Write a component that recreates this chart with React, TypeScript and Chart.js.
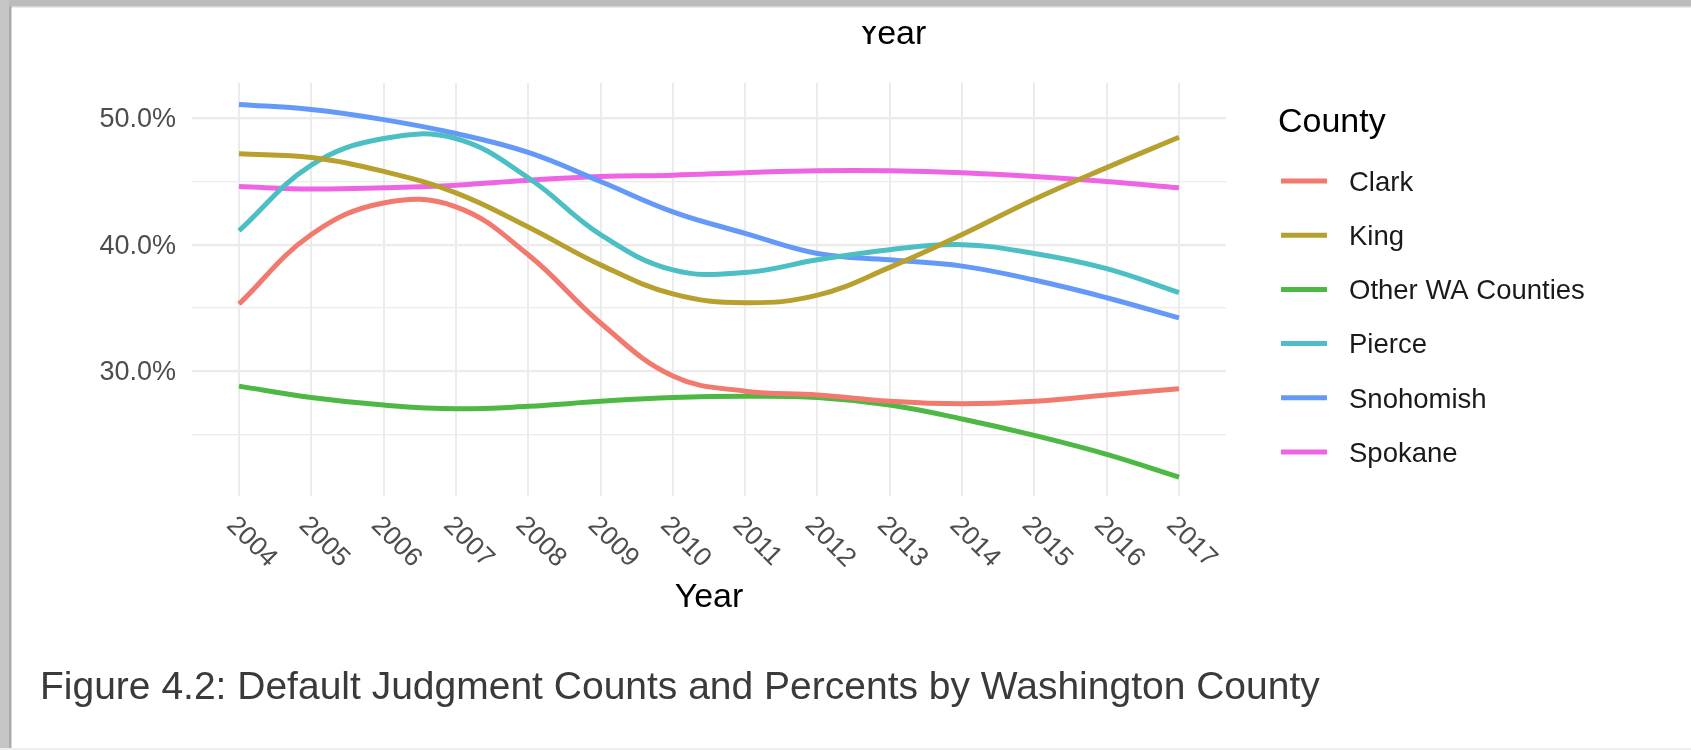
import React, { useEffect, useRef } from 'react';
import { Chart, registerables } from 'chart.js';

Chart.register(...registerables);

const years = [2004, 2005, 2006, 2007, 2008, 2009, 2010, 2011, 2012, 2013, 2014, 2015, 2016, 2017];
const clark = [35.3, 40.8, 43.3, 43.0, 39.2, 33.8, 29.6, 28.4, 28.1, 27.6, 27.4, 27.6, 28.1, 28.6];
const king = [47.2, 46.9, 45.8, 44.1, 41.4, 38.4, 36.1, 35.4, 36.0, 38.2, 40.8, 43.6, 46.1, 48.5];
const otherWA = [28.8, 27.9, 27.3, 27.0, 27.2, 27.6, 27.9, 28.0, 27.9, 27.3, 26.2, 24.9, 23.4, 21.6];
const pierce = [41.1, 46.3, 48.4, 48.4, 45.3, 40.8, 38.0, 37.8, 38.8, 39.6, 40.0, 39.3, 38.1, 36.2];
const snohomish = [51.1, 50.7, 49.9, 48.8, 47.3, 45.0, 42.6, 40.9, 39.3, 38.8, 38.3, 37.2, 35.8, 34.2];
const spokane = [44.6, 44.4, 44.5, 44.7, 45.1, 45.4, 45.5, 45.7, 45.85, 45.85, 45.7, 45.4, 45.0, 44.5];

const seriesNames = ['Clark', 'King', 'Other WA Counties', 'Pierce', 'Snohomish', 'Spokane'];
const seriesValues = [clark, king, otherWA, pierce, snohomish, spokane];
const seriesColors = ['#F2796E', '#B8A02E', '#4DB843', '#4BBFC4', '#6499F9', '#EE64E5'];

const yTicks = [25, 30, 35, 40, 45, 50];
const xTitle = 'Year';
const legendTitle = 'County';
const caption = 'Figure 4.2: Default Judgment Counts and Percents by Washington County';

const FONT = '"Liberation Sans", Arial, Helvetica, sans-serif';
const TICK = 26.5;
const LEG = 27.5;
const TITLE = 34;

const overlay = {
  id: 'overlay',
  afterDraw(chart: any) {
    const ctx = chart.ctx as CanvasRenderingContext2D;
    const xs = chart.scales.x;
    const W = chart.width;
    const H = chart.height;
    ctx.save();

    // rotated x tick labels
    ctx.font = `${TICK}px ${FONT}`;
    ctx.fillStyle = '#4D4D4D';
    years.forEach((yr) => {
      const px = xs.getPixelForValue(yr);
      ctx.save();
      ctx.translate(px, 513);
      ctx.rotate(Math.PI / 4);
      ctx.textAlign = 'left';
      ctx.textBaseline = 'alphabetic';
      ctx.fillText(String(yr), 0, TICK * 0.716);
      ctx.restore();
    });

    // x axis title
    const cx = (chart.chartArea.left + chart.chartArea.right) / 2;
    ctx.font = `${TITLE}px ${FONT}`;
    ctx.fillStyle = '#000';
    ctx.textAlign = 'center';
    ctx.textBaseline = 'alphabetic';
    ctx.fillText(xTitle, cx, 607);

    // clipped title at top
    ctx.save();
    ctx.beginPath();
    ctx.rect(0, 26, W, 40);
    ctx.clip();
    ctx.fillText(xTitle, 892, 44);
    ctx.restore();

    // legend
    ctx.textAlign = 'left';
    ctx.fillStyle = '#000';
    ctx.font = `${TITLE}px ${FONT}`;
    ctx.fillText(legendTitle, 1278, 131.5);
    ctx.font = `${LEG}px ${FONT}`;
    seriesNames.forEach((name, i) => {
      const cy = 181 + i * 54.2;
      ctx.strokeStyle = seriesColors[i];
      ctx.lineWidth = 5;
      ctx.beginPath();
      ctx.moveTo(1281, cy);
      ctx.lineTo(1327, cy);
      ctx.stroke();
      ctx.fillStyle = '#1A1A1A';
      ctx.fillText(name, 1349, cy + LEG * 0.716 / 2);
    });

    // caption
    ctx.font = `39px ${FONT}`;
    ctx.fillStyle = '#3A3A3A';
    ctx.fillText(caption, 40, 699);

    // frame
    ctx.fillStyle = '#BCBCBC';
    ctx.fillRect(0, 0, W, 6);
    ctx.fillStyle = '#D6D6D6';
    ctx.fillRect(0, 6, W, 1.5);
    ctx.fillStyle = '#C6C6C6';
    ctx.fillRect(0, 0, 9, H);
    ctx.fillStyle = '#ABABAB';
    ctx.fillRect(9, 6, 2.5, H);
    ctx.fillStyle = '#EEEEEE';
    ctx.fillRect(0, H - 2, W, 2);

    ctx.restore();
  },
};

export default function App() {
  const ref = useRef<HTMLCanvasElement | null>(null);

  useEffect(() => {
    if (!ref.current) return;
    const chart = new Chart(ref.current, {
      type: 'line',
      data: {
        datasets: seriesNames.map((name, i) => ({
          label: name,
          data: years.map((x, j) => ({ x, y: seriesValues[i][j] })),
          borderColor: seriesColors[i],
          backgroundColor: seriesColors[i],
          borderWidth: 5,
          pointRadius: 0,
          tension: 0.4,
          fill: false,
        })),
      },
      options: {
        animation: false,
        responsive: false,
        devicePixelRatio: 1,
        events: [],
        layout: { padding: { left: 0, top: 83, right: 465, bottom: 254 } },
        plugins: {
          legend: { display: false },
          title: { display: false },
          tooltip: { enabled: false },
        },
        scales: {
          x: {
            type: 'linear',
            min: 2003.35,
            max: 2017.65,
            afterBuildTicks: (s: any) => {
              s.ticks = years.map((v) => ({ value: v }));
            },
            afterFit: (s: any) => {
              s.height = 0;
            },
            ticks: { display: false },
            grid: { color: '#EBEBEB', lineWidth: 2, drawTicks: false },
            border: { display: false },
          },
          y: {
            type: 'linear',
            min: 20.1,
            max: 52.8,
            afterBuildTicks: (s: any) => {
              s.ticks = yTicks.map((v) => ({ value: v }));
            },
            afterFit: (s: any) => {
              s.width = 192;
            },
            ticks: {
              autoSkip: false,
              padding: 16,
              labelOffset: 1.5,
              color: '#4D4D4D',
              font: { family: FONT, size: 27 },
              callback: (v: any) => (Number(v) % 10 === 0 ? Number(v).toFixed(1) + '%' : ''),
            },
            grid: {
              color: '#EBEBEB',
              lineWidth: (c: any) => (c.tick && c.tick.value % 10 === 0 ? 2.2 : 1.2),
              drawTicks: false,
            },
            border: { display: false },
          },
        },
      },
      plugins: [overlay],
    });
    return () => chart.destroy();
  }, []);

  return (
    <div style={{ position: 'fixed', left: 0, top: 0, width: 1691, height: 750, background: '#fff' }}>
      <canvas ref={ref} width={1691} height={750} style={{ display: 'block', width: 1691, height: 750 }} />
    </div>
  );
}
